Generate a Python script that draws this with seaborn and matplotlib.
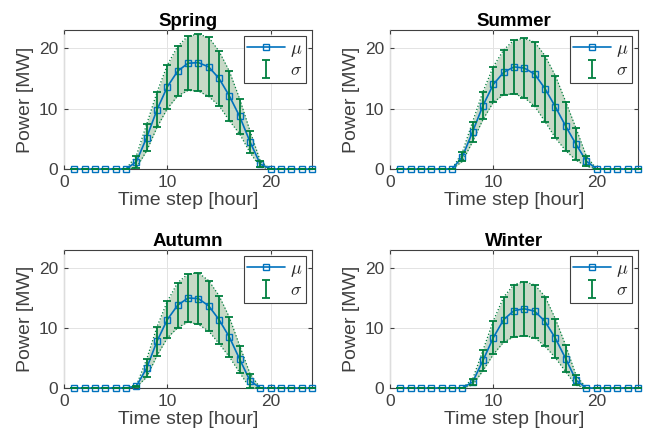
import numpy as np
import pandas as pd
import matplotlib
matplotlib.use("Agg")
import matplotlib.pyplot as plt
import seaborn as sns

hours = list(range(1, 25))
seasons = ["Spring", "Summer", "Autumn", "Winter"]

spring_mu = [0, 0, 0, 0, 0, 0, 1.2, 5.2, 9.8, 13.6, 16.2, 17.5, 17.6, 16.9, 15.0, 12.1, 8.7, 4.5, 0.8, 0, 0, 0, 0, 0]
spring_sd = [0, 0, 0, 0, 0, 0, 1.0, 2.2, 2.9, 3.6, 4.1, 4.5, 4.7, 4.9, 4.5, 4.1, 2.9, 1.8, 0.5, 0, 0, 0, 0, 0]
summer_mu = [0, 0, 0, 0, 0, 0, 2.0, 6.2, 10.5, 14.0, 16.0, 16.9, 16.7, 15.7, 13.3, 10.3, 7.1, 4.1, 1.3, 0, 0, 0, 0, 0]
summer_sd = [0, 0, 0, 0, 0, 0, 0.75, 1.65, 2.3, 2.95, 3.7, 4.45, 4.9, 5.3, 5.45, 5.15, 4.05, 2.65, 0.85, 0, 0, 0, 0, 0]
autumn_mu = [0, 0, 0, 0, 0, 0, 0.3, 3.3, 7.8, 11.4, 13.8, 15.0, 14.9, 13.7, 11.4, 8.5, 4.8, 1.2, 0, 0, 0, 0, 0, 0]
autumn_sd = [0, 0, 0, 0, 0, 0, 0.1, 1.5, 2.4, 3.05, 3.75, 4.0, 4.3, 4.2, 4.0, 3.3, 2.25, 1.2, 0, 0, 0, 0, 0, 0]
winter_mu = [0, 0, 0, 0, 0, 0, 0, 1.0, 4.6, 8.4, 11.4, 12.9, 13.2, 12.8, 11.1, 8.3, 4.9, 1.3, 0, 0, 0, 0, 0, 0]
winter_sd = [0, 0, 0, 0, 0, 0, 0, 0.5, 1.7, 2.8, 3.75, 4.35, 4.5, 4.4, 4.15, 3.25, 2.2, 0.85, 0, 0, 0, 0, 0, 0]

means = [spring_mu, summer_mu, autumn_mu, winter_mu]
sds = [spring_sd, summer_sd, autumn_sd, winter_sd]

x_ticks = [0, 10, 20]
y_ticks = [0, 10, 20]
x_label = "Time step [hour]"
y_label = "Power [MW]"

sns.set_theme(style="ticks")
plt.rcParams["font.family"] = ["Liberation Sans", "DejaVu Sans"]
plt.rcParams["mathtext.fontset"] = "cm"

TXT = "#404040"
BLUE = "#0072BD"
GREEN = "#007F3F"
FILL = "#c7d9c7"

fig = plt.figure(figsize=(6.5, 4.43), dpi=100)
boxes = [
    (64 / 650, 1 - 169 / 443, 248 / 650, 139 / 443),
    (390 / 650, 1 - 169 / 443, 248 / 650, 139 / 443),
    (64 / 650, 1 - 388 / 443, 248 / 650, 138 / 443),
    (390 / 650, 1 - 388 / 443, 248 / 650, 138 / 443),
]

for i, season in enumerate(seasons):
    ax = fig.add_axes(boxes[i])
    mu = np.array(means[i], dtype=float)
    sd = np.array(sds[i], dtype=float)
    lo = np.clip(mu - sd, 0, None)
    hi = mu + sd
    df = pd.DataFrame({"hour": hours, "mu": mu, "lo": lo, "hi": hi})

    ax.fill_between(df["hour"], df["lo"], df["hi"], color=FILL, lw=0, zorder=1)
    sns.lineplot(data=df, x="hour", y="hi", ax=ax, color=GREEN, lw=0.9, ls=":", zorder=2, clip_on=False)
    sns.lineplot(data=df, x="hour", y="lo", ax=ax, color=GREEN, lw=0.9, ls=":", zorder=2, clip_on=False)
    sns.lineplot(data=df, x="hour", y="mu", ax=ax, color=BLUE, lw=1.2, marker="s", markersize=4.5,
                 markerfacecolor="none", markeredgecolor=BLUE, markeredgewidth=1.0, zorder=3,
                 label=r"$\mu$", clip_on=False)
    eb = ax.errorbar(df["hour"], df["mu"], yerr=[df["mu"] - df["lo"], df["hi"] - df["mu"]],
                     fmt="none", ecolor=GREEN, elinewidth=1.3, capsize=3, capthick=1.3, zorder=4,
                     label=r"$\sigma$")
    for art in eb.lines[1] + eb.lines[2]:
        art.set_clip_on(False)

    ax.set_xlim(0, 24)
    ax.set_ylim(0, 23)
    ax.set_xticks(x_ticks)
    ax.set_yticks(y_ticks)
    ax.grid(True, color="#e3e3e3", lw=0.7)
    ax.set_axisbelow(True)
    for s in ax.spines.values():
        s.set_color(TXT)
        s.set_linewidth(0.8)
        s.set_zorder(0.5)
    ax.tick_params(direction="in", length=3, width=0.8, colors=TXT, labelsize=12.5, pad=4,
                   top=True, right=True)
    ax.set_xlabel(x_label, fontsize=14, color=TXT, labelpad=2)
    ax.set_ylabel(y_label, fontsize=14, color=TXT, labelpad=4)
    ax.set_title(season, fontsize=13.5, fontweight="bold", color="black", pad=3)

    h, l = ax.get_legend_handles_labels()
    lines = [hh for hh, ll in zip(h, l) if ll == r"$\mu$"]
    leg = ax.legend([lines[0], eb], [r"$\mu$", r"$\sigma$"], loc="upper right",
                    fontsize=13, frameon=True, fancybox=False, framealpha=1,
                    edgecolor=TXT, borderpad=0.2, handlelength=2.1, labelspacing=0.2,
                    handletextpad=0.25, borderaxespad=0.35)
    leg.get_frame().set_linewidth(0.8)
    leg.set_zorder(10)

fig.savefig("out.png", dpi=100)
